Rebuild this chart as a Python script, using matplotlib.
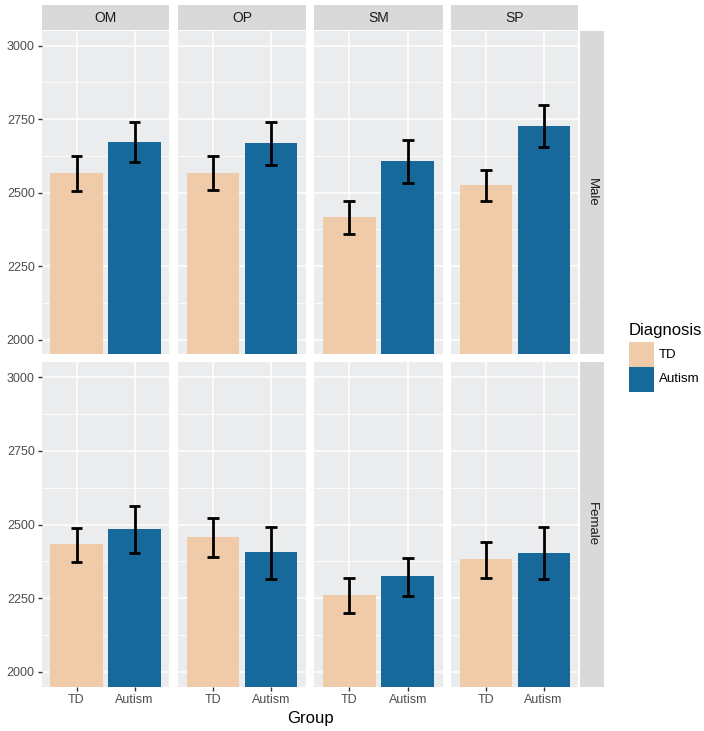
import matplotlib
matplotlib.use("Agg")
import matplotlib.pyplot as plt
import numpy as np

plt.rcParams['font.family'] = ['Liberation Sans', 'DejaVu Sans']

# ---- data ----
tasks = ["OM", "OP", "SM", "SP"]
sexes = ["Male", "Female"]
groups = ["TD", "Autism"]
colors = {"TD": "#EFCBA9", "Autism": "#17699B"}

male_td = [2566, 2568, 2416, 2527]
male_aut = [2674, 2669, 2607, 2728]
male_td_lo = [2507, 2508, 2359, 2473]
male_td_hi = [2626, 2625, 2473, 2578]
male_aut_lo = [2604, 2595, 2534, 2655]
male_aut_hi = [2742, 2739, 2678, 2799]

female_td = [2434, 2458, 2261, 2383]
female_aut = [2485, 2406, 2324, 2405]
female_td_lo = [2374, 2389, 2200, 2320]
female_td_hi = [2488, 2521, 2320, 2441]
female_aut_lo = [2403, 2316, 2258, 2316]
female_aut_hi = [2563, 2493, 2386, 2491]

yticks = [2000, 2250, 2500, 2750, 3000]

data = {
    "Male": (male_td, male_aut, male_td_lo, male_td_hi, male_aut_lo, male_aut_hi),
    "Female": (female_td, female_aut, female_td_lo, female_td_hi, female_aut_lo, female_aut_hi),
}

W, H = 704, 731
fig = plt.figure(figsize=(W / 100, H / 100), dpi=100)

def ax_px(x0, y0, x1, y1):
    return fig.add_axes([x0 / W, 1 - y1 / H, (x1 - x0) / W, (y1 - y0) / H])

col_x = [(41.7, 169.3), (178.3, 306.0), (314.3, 442.7), (451.0, 578.3)]
row_y = [(31.0, 354.3), (362.3, 686.7)]
strip_top = (5.0, 30.0)
strip_right = (579.5, 604.0)

panel_bg = "#EBECEE"
strip_bg = "#D9D9D9"
txt_gray = "#4D4D4D"

for r, sex in enumerate(sexes):
    td, aut, tdl, tdh, aul, auh = data[sex]
    for c, task in enumerate(tasks):
        ax = ax_px(col_x[c][0], row_y[r][0], col_x[c][1], row_y[r][1])
        ax.set_facecolor(panel_bg)
        ax.set_xlim(0.4, 2.6)
        ax.set_ylim(1950, 3050)
        for yv in yticks:
            ax.axhline(yv, color="white", lw=1.1, zorder=0)
        for yv in [2125, 2375, 2625, 2875]:
            ax.axhline(yv, color="white", lw=0.55, zorder=0)
        for xv in [1, 2]:
            ax.axvline(xv, color="white", lw=1.1, zorder=0)
        vals = [td[c], aut[c]]
        los = [tdl[c], aul[c]]
        his = [tdh[c], auh[c]]
        xs = np.array([1, 2])
        ax.bar(xs, np.array(vals) - 1900, bottom=1900, width=0.9,
               color=[colors[g] for g in groups], zorder=2)
        for x, lo, hi in zip(xs, los, his):
            ax.plot([x, x], [lo, hi], color="black", lw=2, zorder=3, solid_capstyle="butt")
            ax.plot([x - 0.1, x + 0.1], [lo, lo], color="black", lw=2, zorder=3, solid_capstyle="butt")
            ax.plot([x - 0.1, x + 0.1], [hi, hi], color="black", lw=2, zorder=3, solid_capstyle="butt")
        for s in ax.spines.values():
            s.set_visible(False)
        ax.tick_params(length=3, width=1, color="#333333", labelcolor=txt_gray,
                       labelsize=9, pad=2)
        ax.set_yticks(yticks)
        if c == 0:
            ax.set_yticklabels([str(v) for v in yticks])
        else:
            ax.tick_params(axis="y", length=0, labelleft=False)
        ax.set_xticks([1, 2])
        if r == 1:
            ax.set_xticklabels(groups)
        else:
            ax.tick_params(axis="x", length=0, labelbottom=False)

        if r == 0:
            sax = ax_px(col_x[c][0], strip_top[0], col_x[c][1], strip_top[1])
            sax.set_facecolor(strip_bg)
            sax.set_xticks([]); sax.set_yticks([])
            for s in sax.spines.values():
                s.set_visible(False)
            sax.text(0.5, 0.5, task, ha="center", va="center", fontsize=10,
                     color="#1A1A1A", transform=sax.transAxes)
    rax = ax_px(strip_right[0], row_y[r][0], strip_right[1], row_y[r][1])
    rax.set_facecolor(strip_bg)
    rax.set_xticks([]); rax.set_yticks([])
    for s in rax.spines.values():
        s.set_visible(False)
    rax.text(0.5, 0.5, sex, ha="center", va="center", fontsize=9.5, rotation=-90,
             color="#1A1A1A", transform=rax.transAxes)

fig.text(310 / W, 1 - 718 / H, "Group", ha="center", va="center", fontsize=12, color="black")

fig.text(629 / W, 1 - 331 / H, "Diagnosis", ha="left", va="center", fontsize=12, color="black")
for i, g in enumerate(groups):
    y0 = 342 + i * 25
    kax = ax_px(629, y0, 654, y0 + 25)
    kax.set_facecolor(colors[g])
    kax.set_xticks([]); kax.set_yticks([])
    for s in kax.spines.values():
        s.set_visible(False)
    fig.text(659 / W, 1 - (y0 + 12.5) / H, g, ha="left", va="center", fontsize=9.5, color="black")

fig.savefig("out.png", dpi=100, facecolor="white")
